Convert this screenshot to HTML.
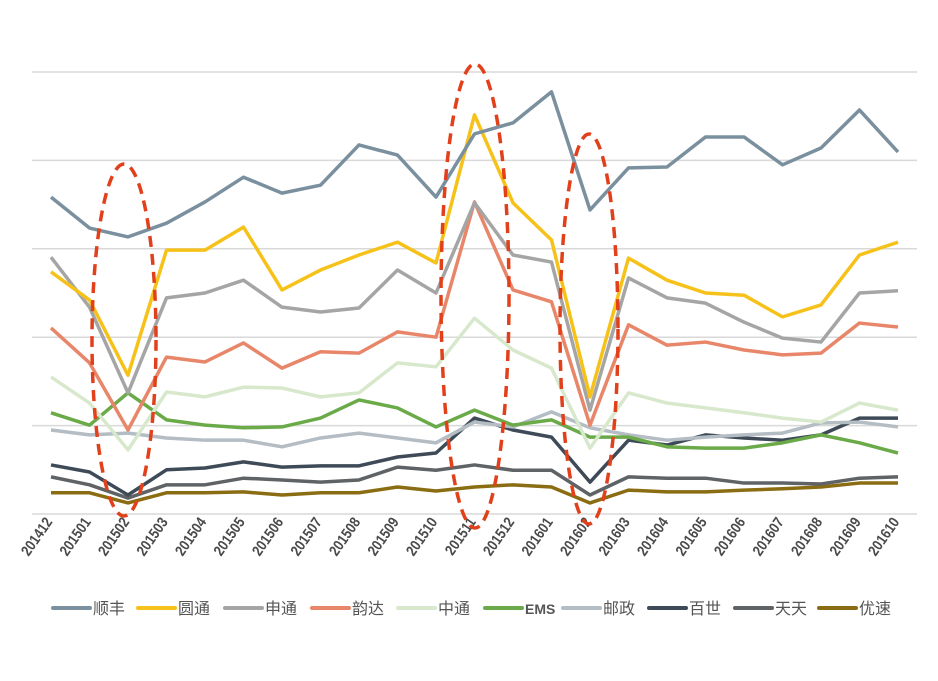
<!DOCTYPE html>
<html><head><meta charset="utf-8"><style>
html,body{margin:0;padding:0;background:#fff;}
svg{display:block;font-family:"Liberation Sans","Noto Sans CJK SC",sans-serif;}
</style></head><body>
<svg id="chart" width="938" height="681" viewBox="0 0 938 681" xmlns="http://www.w3.org/2000/svg">
<g id="grid"></g>
<g id="lines"></g>
<g id="xlabels"></g>
<g id="marks">
<ellipse cx="124" cy="340" rx="32" ry="176" fill="none" stroke="#e2401a" stroke-width="3.5" stroke-dasharray="11,7"/>
<ellipse cx="475" cy="296" rx="34" ry="232" fill="none" stroke="#e2401a" stroke-width="3.5" stroke-dasharray="11,7"/>
<ellipse cx="589" cy="329" rx="29" ry="195" fill="none" stroke="#e2401a" stroke-width="3.5" stroke-dasharray="11,7"/>
</g>
<g id="legend"></g>
</svg>
<script>
const categories=["201412","201501","201502","201503","201504","201505","201506","201507","201508","201509","201510","201511","201512","201601","201602","201603","201604","201605","201606","201607","201608","201609","201610"];
const seriesNames=["顺丰","圆通","申通","韵达","中通","EMS","邮政","百世","天天","优速"];
const seriesColors=["#7a909e","#f6c21a","#a5a5a5","#e8866a","#d8e8cc","#6aaa48","#b4bcc4","#3e4a57","#5f6366","#8a6d12"];
const sfValues=[71.7,64.7,62.7,65.8,70.6,76.2,72.6,74.4,83.5,81.2,71.7,86.0,88.5,95.5,68.8,78.3,78.5,85.3,85.3,79.0,82.8,91.4,81.9];
const ytValues=[54.8,48.4,31.4,59.7,59.7,64.9,50.7,55.2,58.6,61.5,56.8,90.3,70.4,62.0,26.5,57.9,52.9,50.0,49.5,44.6,47.3,58.6,61.5];
const stValues=[58.1,46.8,27.4,48.9,50.0,52.9,46.8,45.7,46.6,55.2,50.0,70.4,58.6,57.0,23.5,53.4,48.9,47.7,43.4,39.8,38.9,50.0,50.5];
const ydValues=[42.1,34.2,19.0,35.5,34.4,38.7,33.0,36.7,36.4,41.2,40.0,70.6,50.7,48.0,20.1,42.8,38.2,38.9,37.1,36.0,36.4,43.2,42.3];
const ztValues=[31.0,25.1,14.5,27.6,26.5,28.7,28.5,26.5,27.4,34.2,33.3,44.3,37.1,33.0,14.9,27.4,25.1,24.0,22.9,21.7,20.8,25.1,23.5];
const emsValues=[22.9,20.1,27.4,21.3,20.1,19.5,19.7,21.7,25.8,24.0,19.7,23.5,20.1,21.3,17.4,17.4,15.2,14.9,14.9,16.1,17.9,16.1,13.8];
const yzValues=[19.0,17.9,18.3,17.2,16.7,16.7,15.2,17.2,18.3,17.2,16.1,20.8,19.7,23.1,19.5,17.9,16.7,17.4,17.9,18.3,20.6,20.8,19.7];
const bsValues=[11.1,9.5,4.3,10.0,10.4,11.8,10.6,10.9,10.9,12.9,13.8,21.7,19.0,17.4,7.2,16.7,15.6,17.9,17.2,16.7,17.9,21.7,21.7];
const ttValues=[8.4,6.6,3.6,6.6,6.6,8.1,7.7,7.2,7.7,10.6,9.9,11.1,9.9,9.9,4.3,8.4,8.1,8.1,7.0,7.0,6.8,8.1,8.4];
const ysValues=[4.8,4.8,2.5,4.8,4.8,5.0,4.3,4.8,4.8,6.1,5.2,6.1,6.6,6.1,2.5,5.4,5.0,5.0,5.4,5.7,6.1,7.0,7.0];
const yTicks=[0,20,40,60,80,100];
const allSeries=[sfValues,ytValues,stValues,ydValues,ztValues,emsValues,yzValues,bsValues,ttValues,ysValues];

const NS="http://www.w3.org/2000/svg";
const xS=i=>51+i*(898-51)/(categories.length-1);
const yS=v=>514-v*(514-72)/100;
function mk(tag,parent){const e=document.createElementNS(NS,tag);parent.appendChild(e);return e;}

const grid=document.getElementById('grid');
yTicks.forEach(t=>{
  const l=mk('line',grid);
  
  
  l.setAttribute('x1',32);l.setAttribute('x2',917);
  l.setAttribute('y1',yS(t));l.setAttribute('y2',yS(t));
  l.setAttribute('stroke','#d9d9d9');l.setAttribute('stroke-width','1.5');
});

const lines=document.getElementById('lines');
for(let s=allSeries.length-1;s>=0;s--){
  const p=mk('polyline',lines);
  
  
  p.setAttribute('points',allSeries[s].map((v,i)=>xS(i)+','+yS(v)).join(' '));
  p.setAttribute('fill','none');p.setAttribute('stroke',seriesColors[s]);
  p.setAttribute('stroke-width','3.5');p.setAttribute('stroke-linejoin','round');
}

const xl=document.getElementById('xlabels');
categories.forEach((c,i)=>{
  const t=mk('text',xl);
  
  
  const x=xS(i)+2,y=522;
  t.setAttribute('x',x);t.setAttribute('y',y);
  t.setAttribute('text-anchor','end');
  t.setAttribute('transform','rotate(-55 '+x+' '+y+') scale(0.85 1) translate('+(x/0.85-x)+' 0)');
  t.setAttribute('font-family','"Liberation Sans Narrow","Liberation Sans",sans-serif');
  t.setAttribute('font-weight','bold');t.setAttribute('font-size','15');
  t.setAttribute('fill','#4a4a4a');
  t.textContent=c;
});

const lg=document.getElementById('legend');
const lgX=[53,138,225,312,398,485,563,649,735,819];
seriesNames.forEach((n,s)=>{
  const g=mk('g',lg);
  
  
  const l=mk('line',g);
  l.setAttribute('x1',lgX[s]);l.setAttribute('x2',lgX[s]+37);
  l.setAttribute('y1',608);l.setAttribute('y2',608);
  l.setAttribute('stroke',seriesColors[s]);l.setAttribute('stroke-width','4');l.setAttribute('stroke-linecap','round');
  const t=mk('text',g);
  t.setAttribute('x',lgX[s]+40);t.setAttribute('y',614);
  t.setAttribute('font-size',n==='EMS'?'14':'16');
  if(n==='EMS')t.setAttribute('font-weight','bold');
  t.setAttribute('fill','#555');
  t.textContent=n;
});
</script>
</body></html>
